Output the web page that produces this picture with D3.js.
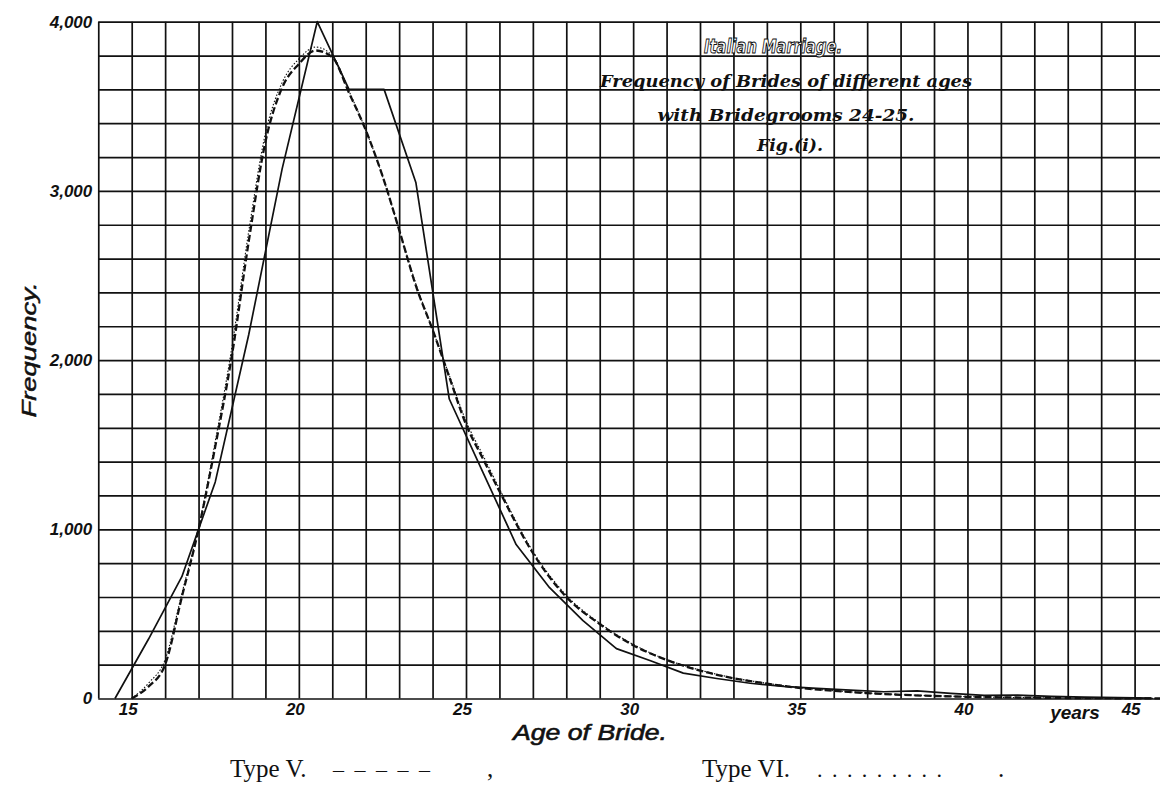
<!DOCTYPE html>
<html>
<head>
<meta charset="utf-8">
<script src="https://cdn.jsdelivr.net/npm/d3@7"></script>
<style>
  html, body { margin: 0; padding: 0; background: #fff; }
  svg { display: block; }
</style>
</head>
<body>
<svg id="chart" width="1160" height="786"></svg>
<script>
// ---------------- DATA ----------------
const xTickValues = [15, 20, 25, 30, 35, 40, 45];
const yTickValues = [0, 1000, 2000, 3000, 4000];
const titleLines = ["Frequency of Brides of different ages", "with Bridegrooms 24-25.", "Fig.(i)."];
const titleMain = "Italian Marriage.";
const xAxisTitle = "Age of Bride.";
const yAxisTitle = "Frequency.";
const xUnitLabel = "years";

// Observed frequency polygon (solid)
const observedAges = [14.5, 15.5, 16.5, 17.5, 18.5, 19.5, 20.55, 21.5, 22.55, 23.5, 24.5, 25.5, 26.5, 27.5, 28.5, 29.5, 30.5, 31.5, 32.5, 33.5, 34.5, 35.5, 36.5, 37.5, 38.5, 39.5, 40.5, 41.5, 42.5, 43.5, 44.5, 45.5];
const observedFreq = [0, 350, 720, 1280, 2150, 3130, 4000, 3600, 3600, 3050, 1770, 1340, 910, 655, 460, 295, 225, 150, 118, 90, 72, 60, 50, 40, 45, 30, 18, 20, 12, 8, 5, 2];

// Fitted curves
const fitAges = [15, 15.5, 16, 16.5, 17, 17.5, 18, 18.5, 19, 19.5, 20, 20.5, 21, 21.5, 22, 22.5, 23, 23.5, 24, 24.5, 25, 25.5, 26, 27, 28, 29, 30, 31, 32, 33, 34, 35, 36, 37, 38, 39, 40, 41, 42, 43, 44, 45, 46];
const typeVFreq = [0, 70, 200, 600, 1000, 1490, 2030, 2700, 3290, 3610, 3750, 3830, 3790, 3580, 3360, 3090, 2770, 2440, 2180, 1900, 1620, 1420, 1225, 860, 600, 440, 315, 228, 165, 120, 88, 62, 45, 32, 22, 15, 10, 7, 5, 3, 2, 1, 0];
const typeVIFreq = [0, 90, 230, 620, 1010, 1520, 2080, 2760, 3340, 3640, 3780, 3850, 3800, 3590, 3360, 3090, 2770, 2450, 2180, 1910, 1640, 1440, 1240, 870, 610, 445, 320, 230, 168, 122, 90, 64, 46, 33, 23, 16, 11, 7, 5, 3, 2, 1, 0];

const legendItems = [
  { label: "Type V.", key: "– – – – –", tail: "," },
  { label: "Type VI.", key: ". . . . . . . . .", tail: "." }
];

// ---------------- LAYOUT ----------------
const svg = d3.select("#chart");
const plotLeftAge = 14, plotRightPx = 1160;
const x = d3.scaleLinear().domain([15, 45]).range([131.7, 1134.6]);
const y = d3.scaleLinear().domain([0, 4000]).range([698.5, 21.7]);
const plotLeft = x(plotLeftAge);
const plotBottom = y(0), plotTop = y(4000);
const ink = "#111";

// clip
svg.append("defs").append("clipPath").attr("id", "plotclip")
  .append("rect").attr("x", plotLeft).attr("y", plotTop - 2).attr("width", plotRightPx - plotLeft).attr("height", plotBottom - plotTop + 4);

// ---------------- GRID ----------------
const vGrid = d3.axisBottom(x).tickValues(d3.range(14, 46)).tickSize(-(plotBottom - plotTop)).tickFormat("");
const gv = svg.append("g").attr("transform", `translate(0,${plotBottom})`).call(vGrid);
gv.select(".domain").remove();
gv.selectAll(".tick line").attr("stroke", ink).attr("stroke-width", 1.7);

const hGrid = d3.axisLeft(y).tickValues(d3.range(0, 4001, 200)).tickSize(-(plotRightPx - plotLeft)).tickFormat("");
const gh = svg.append("g").attr("transform", `translate(${plotLeft},0)`).call(hGrid);
gh.select(".domain").remove();
gh.selectAll(".tick line").attr("stroke", ink).attr("stroke-width", 1.7);

// ---------------- AXES LABELS ----------------
const tickFont = "'Liberation Sans', Arial, sans-serif";
const yAx = svg.append("g").attr("transform", `translate(${plotLeft},0)`)
  .call(d3.axisLeft(y).tickValues(yTickValues).tickSize(0).tickPadding(6).tickFormat(d3.format(",")));
yAx.select(".domain").remove();
yAx.selectAll("text").attr("font-family", tickFont).attr("font-style", "italic").attr("font-weight", "bold")
  .attr("font-size", 17).attr("fill", ink);

const xAx = svg.append("g").attr("transform", `translate(0,${plotBottom})`)
  .call(d3.axisBottom(x).tickValues(xTickValues).tickSize(0).tickPadding(4).tickFormat(d3.format("d")));
xAx.select(".domain").remove();
xAx.selectAll("text").attr("font-family", tickFont).attr("font-style", "italic").attr("font-weight", "bold")
  .attr("font-size", 17).attr("fill", ink).attr("dx", -4);

svg.append("text").attr("x", 1075).attr("y", 719).attr("text-anchor", "middle")
  .attr("font-family", tickFont).attr("font-style", "italic").attr("font-weight", "bold")
  .attr("font-size", 19).attr("fill", ink).text(xUnitLabel);

svg.append("text").attr("x", 590).attr("y", 740).attr("text-anchor", "middle")
  .attr("font-family", tickFont).attr("font-style", "italic")
  .attr("font-size", 22).attr("fill", ink).attr("stroke", ink).attr("stroke-width", 0.6)
  .attr("textLength", 154).attr("lengthAdjust", "spacingAndGlyphs")
  .text(xAxisTitle);

svg.append("text").attr("transform", "translate(36,350) rotate(-90)").attr("text-anchor", "middle")
  .attr("font-family", tickFont).attr("font-style", "italic")
  .attr("font-size", 21).attr("fill", ink).attr("stroke", ink).attr("stroke-width", 0.5)
  .attr("textLength", 135).attr("lengthAdjust", "spacingAndGlyphs")
  .text(yAxisTitle);

// ---------------- TITLE ----------------
const serifBI = "'DejaVu Serif', 'Liberation Serif', serif";
svg.append("text").attr("x", 773).attr("y", 53).attr("text-anchor", "middle")
  .attr("font-family", "'DejaVu Sans', sans-serif").attr("font-style", "italic").attr("font-weight", "bold")
  .attr("font-size", 20).attr("fill", "#fff").attr("stroke", ink).attr("stroke-width", 1.1)
  .attr("textLength", 138).attr("lengthAdjust", "spacingAndGlyphs")
  .text(titleMain);
const titleSpec = [
  { cx: 786, y: 87, len: 372 },
  { cx: 786, y: 121, len: 257 },
  { cx: 790, y: 151, len: 66 }
];
titleLines.forEach((t, i) => {
  svg.append("text").attr("x", titleSpec[i].cx).attr("y", titleSpec[i].y).attr("text-anchor", "middle")
    .attr("font-family", serifBI).attr("font-style", "italic").attr("font-weight", "bold")
    .attr("font-size", 16).attr("fill", ink)
    .attr("textLength", titleSpec[i].len).attr("lengthAdjust", "spacingAndGlyphs")
    .text(t);
});

// ---------------- CURVES ----------------
const plot = svg.append("g").attr("clip-path", "url(#plotclip)");
const lineLinear = d3.line().x(d => x(d[0])).y(d => y(d[1]));
const lineSmooth = d3.line().x(d => x(d[0])).y(d => y(d[1])).curve(d3.curveMonotoneX);

plot.append("path").datum(d3.zip(fitAges, typeVIFreq)).attr("d", lineSmooth)
  .attr("fill", "none").attr("stroke", ink).attr("stroke-width", 1.1).attr("stroke-dasharray", "1.5,1.8");
plot.append("path").datum(d3.zip(fitAges, typeVFreq)).attr("d", lineSmooth)
  .attr("fill", "none").attr("stroke", ink).attr("stroke-width", 2.3).attr("stroke-dasharray", "7,3");
plot.append("path").datum(d3.zip(observedAges, observedFreq)).attr("d", lineLinear)
  .attr("fill", "none").attr("stroke", ink).attr("stroke-width", 1.7).attr("stroke-linejoin", "round");

// ---------------- LEGEND ----------------
const legSerif = "'Liberation Serif', 'DejaVu Serif', serif";
const legPos = [
  { lx: 230, kx: 333, klen: 97, tx: 487 },
  { lx: 702, kx: 817, klen: 125, tx: 998 }
];
legendItems.forEach((it, i) => {
  const p = legPos[i];
  svg.append("text").attr("x", p.lx).attr("y", 777).attr("font-family", legSerif)
    .attr("font-size", 25).attr("fill", ink).text(it.label);
  svg.append("text").attr("x", p.kx).attr("y", 777).attr("font-family", legSerif)
    .attr("font-size", 22).attr("fill", ink)
    .attr("textLength", p.klen).attr("lengthAdjust", "spacing").text(it.key);
  svg.append("text").attr("x", p.tx).attr("y", 777).attr("font-family", legSerif)
    .attr("font-size", 25).attr("fill", ink).text(it.tail);
});
</script>
</body>
</html>
